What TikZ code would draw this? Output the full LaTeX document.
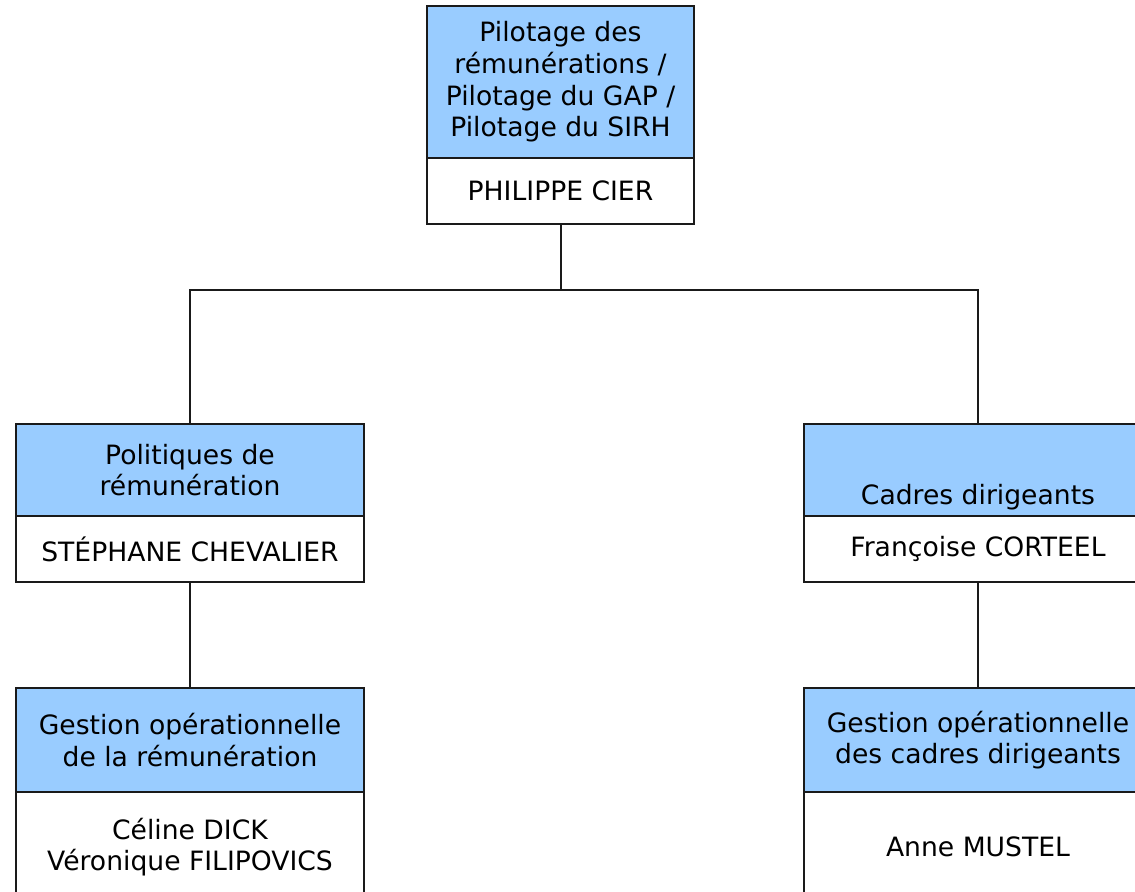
\documentclass[tikz,border=0pt]{standalone}
\usepackage{fontspec}
\setmainfont{DejaVu Sans}
\usetikzlibrary{positioning}
\definecolor{unitblue}{HTML}{99CCFF}
\definecolor{boxline}{HTML}{1A1A1A}

\begin{document}
\begin{tikzpicture}[x=0.5pt, y=-0.5pt,
    every node/.style={font=\fontsize{13.3}{15.8}\selectfont, text=black},
    unitbox/.style={draw=boxline, line width=1pt, fill=unitblue, align=center,
        inner sep=0pt, outer sep=0pt, minimum width=174pt},
    namebox/.style={draw=boxline, line width=1pt, fill=white, align=center,
        inner sep=0pt, outer sep=0pt, minimum width=174pt, minimum height=33pt},
    link/.style={draw=boxline, line width=1pt}]

\clip (0,0) rectangle (1135,892);
\fill[white] (0,0) rectangle (1135,892);

% --- top: pilotage ---
\node[unitbox, minimum width=133.5pt, minimum height=76pt] (pilotage) at (560.5,82)
    {Pilotage des\\rémunérations /\\Pilotage du GAP /\\Pilotage du SIRH};
\node[namebox, minimum width=133.5pt, below=0pt of pilotage] (pilotagename) {PHILIPPE CIER};

% --- middle row ---
\node[unitbox, minimum height=46pt] (politiques) at (190,470) {Politiques de\\rémunération};
\node[namebox, below=0pt of politiques] (politiquesname) {STÉPHANE CHEVALIER};

\node[unitbox, minimum height=46pt] (cadres) at (978,470) {\strut\\[10pt]Cadres dirigeants};
\node[namebox, below=0pt of cadres] (cadresname) {Françoise CORTEEL};

% --- bottom row ---
\node[unitbox, minimum height=52pt] (gestrem) at (190,740) {Gestion opérationnelle\\de la rémunération};
\node[namebox, minimum height=55pt, below=0pt of gestrem] (gestremname) {Céline DICK\\Véronique FILIPOVICS};

\node[unitbox, minimum height=52pt] (gestcad) at (978,740) {Gestion opérationnelle\\des cadres dirigeants};
\node[namebox, minimum height=55pt, below=0pt of gestcad] (gestcadname) {Anne MUSTEL};

% --- connectors ---
\coordinate (bus) at (560.5,290);
\draw[link] (pilotagename.south) -- (bus);
\draw[link] (bus) -| (politiques.north);
\draw[link] (bus) -| (cadres.north);
\draw[link] (politiquesname.south) -- (gestrem.north);
\draw[link] (cadresname.south) -- (gestcad.north);

\end{tikzpicture}
\end{document}
